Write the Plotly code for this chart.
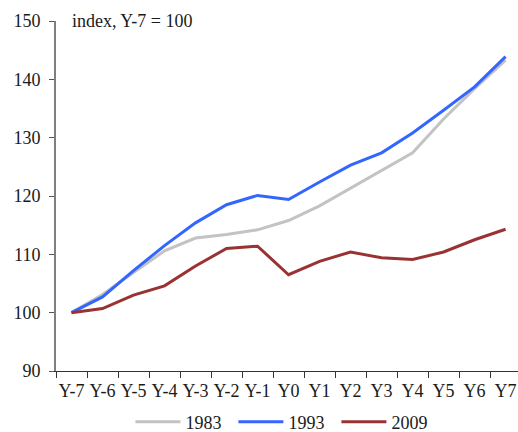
import plotly.graph_objects as go

categories = ["Y-7", "Y-6", "Y-5", "Y-4", "Y-3", "Y-2", "Y-1", "Y0", "Y1", "Y2", "Y3", "Y4", "Y5", "Y6", "Y7"]
s1983 = [100, 103.1, 106.9, 110.6, 112.8, 113.4, 114.2, 115.8, 118.3, 121.3, 124.4, 127.4, 133.2, 138.4, 143.3]
s1993 = [100, 102.7, 107.2, 111.5, 115.4, 118.5, 120.1, 119.4, 122.4, 125.3, 127.4, 130.8, 134.7, 138.7, 143.9]
s2009 = [100, 100.7, 103.0, 104.6, 108.0, 111.0, 111.4, 106.5, 108.8, 110.4, 109.4, 109.1, 110.4, 112.5, 114.3]
yticks = [90, 100, 110, 120, 130, 140, 150]

font_family = "Liberation Serif, Times New Roman, serif"

fig = go.Figure()
fig.add_trace(go.Scatter(x=categories, y=s1983, mode="lines", name="1983",
                         line=dict(color="#C3C3C3", width=3)))
fig.add_trace(go.Scatter(x=categories, y=s1993, mode="lines", name="1993",
                         line=dict(color="#3366FF", width=3)))
fig.add_trace(go.Scatter(x=categories, y=s2009, mode="lines", name="2009",
                         line=dict(color="#993333", width=3)))

fig.update_layout(
    width=518, height=432,
    margin=dict(l=56, r=0, t=21, b=61),
    plot_bgcolor="white", paper_bgcolor="white",
    font=dict(family=font_family, size=18, color="#1a1a1a"),
    showlegend=True,
    legend=dict(orientation="h", xref="container", x=0.55, xanchor="center",
                yref="container", y=1 - 422 / 432, yanchor="middle",
                font=dict(size=18), entrywidth=43, entrywidthmode="pixels",
                itemwidth=45, traceorder="normal"),
    xaxis=dict(type="category", range=[-0.5, 14.4], showgrid=False, automargin=False,
               showline=True, linecolor="#333333", linewidth=1.3, tickangle=0,
               ticks="outside", tickson="boundaries", ticklen=6, tickcolor="#333333",
               ticklabelstandoff=3, tickfont=dict(size=18)),
    yaxis=dict(range=[90, 150], tickvals=yticks, showgrid=False, zeroline=False,
               automargin=False,
               showline=True, linecolor="#7f7f7f", linewidth=2,
               ticks="outside", ticklen=5, tickcolor="#555555", ticklabelstandoff=5,
               tickfont=dict(size=18)),
    annotations=[dict(text="index, Y-7 = 100", xref="paper", yref="paper",
                      x=0.0303, y=1.0, xanchor="left", yanchor="middle",
                      showarrow=False, font=dict(size=18))],
)

fig.write_html("out.html", config={"displayModeBar": False},
               post_script="document.body.style.margin='0';")
